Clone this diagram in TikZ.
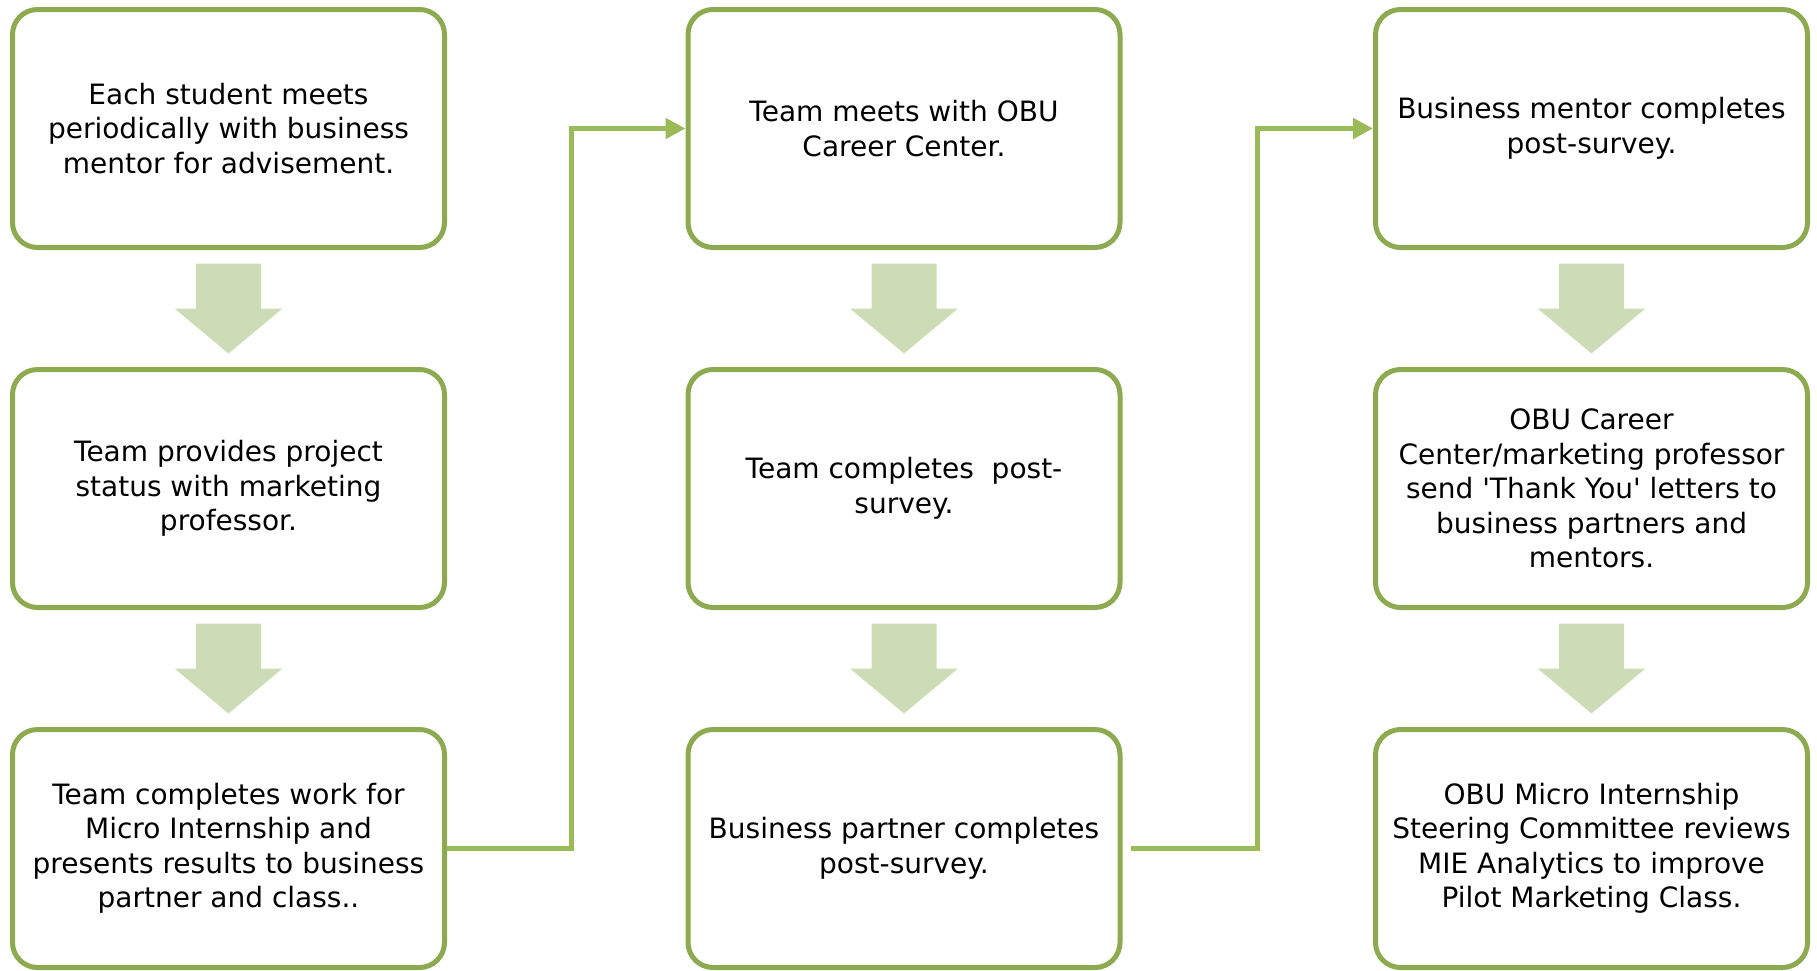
\documentclass[tikz,border=0pt]{standalone}
\usepackage{fontspec}
\setmainfont{DejaVu Sans}
\usetikzlibrary{arrows.meta,calc}
\definecolor{boxgreen}{HTML}{8EAA50}
\definecolor{linkgreen}{HTML}{9BBB59}
\definecolor{blockgreen}{HTML}{CDDCB6}

\begin{document}
\begin{tikzpicture}[x=1pt, y=-1pt,
    stepbox/.style={draw=boxgreen, line width=5pt, rounded corners=25pt, fill=white,
        minimum width=432pt, minimum height=238pt, align=center, inner sep=0pt,
        font=\fontsize{28}{34.5}\selectfont},
    link/.style={draw=linkgreen, line width=5pt, -{Triangle[length=20pt 0, width=20pt 0]}},
    blockarrow/.style={fill=blockgreen}]
    \useasboundingbox (0,0) rectangle (1817,970);

    \node[stepbox] (b1) at (228.5,128.5) {Each student meets\\periodically with business\\mentor for advisement.};
    \node[stepbox] (b2) at (228.5,488.5) {Team provides project\\status with marketing\\professor.};
    \node[stepbox] (b3) at (228.5,848.5) {Team completes work for\\Micro Internship and\\presents results to business\\partner and class..};
    \node[stepbox] (b4) at (904,128.5) {Team meets with OBU\\Career Center.};
    \node[stepbox] (b5) at (904,488.5) {Team completes\ \ post-\\survey.};
    \node[stepbox] (b6) at (904,848.5) {Business partner completes\\post-survey.};
    \node[stepbox] (b7) at (1591.5,128.5) {Business mentor completes\\post-survey.};
    \node[stepbox] (b8) at (1591.5,488.5) {OBU Career\\Center/marketing professor\\send \textquotesingle Thank You\textquotesingle{} letters to\\business partners and\\mentors.};
    \node[stepbox] (b9) at (1591.5,848.5) {OBU Micro Internship\\Steering Committee reviews\\MIE Analytics to improve\\Pilot Marketing Class.};

    % block arrows down each column
    \foreach \a/\b in {b1/b2, b2/b3, b4/b5, b5/b6, b7/b8, b8/b9} {
        \coordinate (m) at ($(\a.south)!0.5!(\b.north)$);
        \fill[blockarrow] ($(m)+(-32.5,-45)$) -- ($(m)+(32.5,-45)$) -- ($(m)+(32.5,0)$)
            -- ($(m)+(54,0)$) -- ($(m)+(0,45)$) -- ($(m)+(-54,0)$) -- ($(m)+(-32.5,0)$) -- cycle;
    }

    % links between columns
    \coordinate (k1) at (571.5,0);
    \coordinate (k2) at (1257,0);
    \coordinate (s2) at ($(b6.east)+(8,0)$);
    \draw[link] (b3.east) -- (b3.east -| k1) |- (b4.west);
    \draw[link] (s2) -- (s2 -| k2) |- (b7.west);
\end{tikzpicture}
\end{document}
